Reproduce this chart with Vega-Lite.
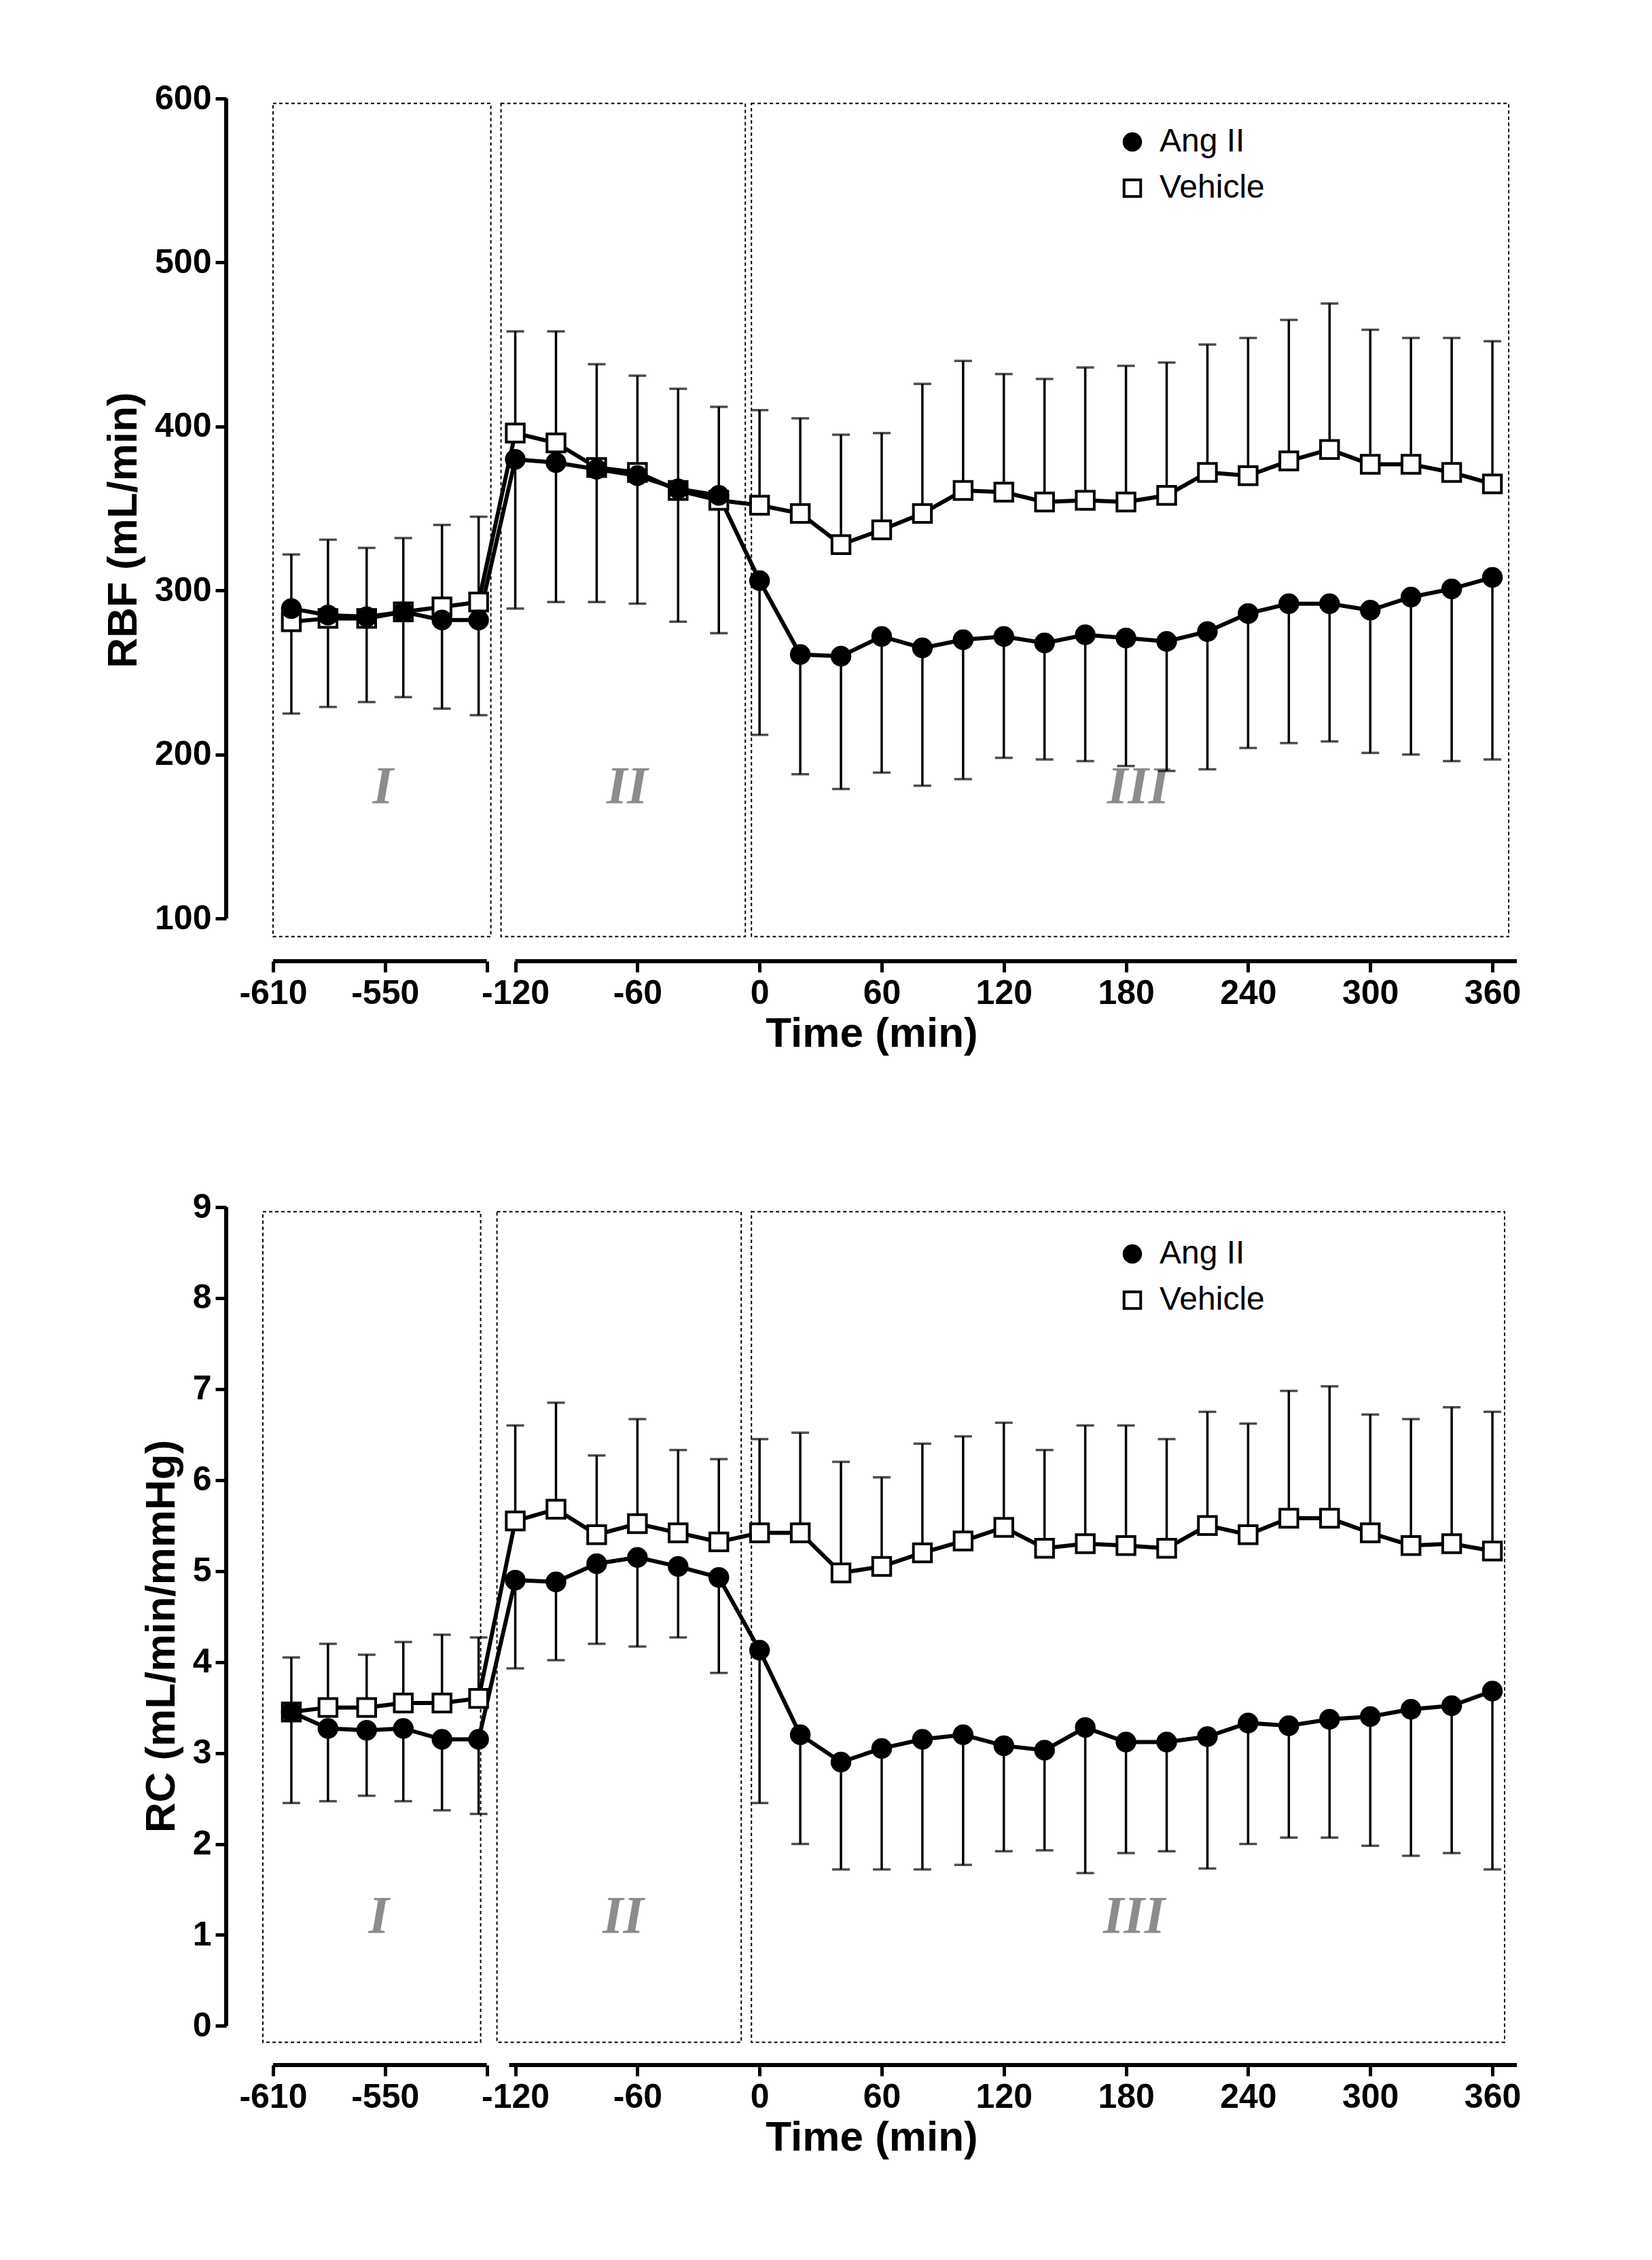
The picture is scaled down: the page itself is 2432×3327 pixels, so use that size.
{
  "$schema": "https://vega.github.io/schema/vega-lite/v6.json",
  "background": "white",
  "padding": {"left": 150, "top": 120, "right": 40, "bottom": 30},
  "config": {
    "view": {"stroke": null},
    "font": "Liberation Sans",
    "axis": {"grid": false, "domain": false, "tickColor": "black", "tickWidth": 5, "tickSize": 16, "labelFont": "Liberation Sans", "labelFontSize": 50, "labelFontWeight": "bold", "labelColor": "black", "titleFont": "Liberation Sans", "titleFontSize": 62, "titleFontWeight": "bold", "titleColor": "black", "labelPadding": 6}
  },
  "spacing": 200,
  "datasets": {
    "series": [
      {"k":"RBF","g":"Vehicle","p":-230,"m":281,"e":322},{"k":"RBF","g":"Vehicle","p":-212,"m":283,"e":331},{"k":"RBF","g":"Vehicle","p":-193,"m":283,"e":326},{"k":"RBF","g":"Vehicle","p":-175,"m":287,"e":332},{"k":"RBF","g":"Vehicle","p":-156,"m":290,"e":340},{"k":"RBF","g":"Vehicle","p":-138,"m":293,"e":345},
      {"k":"RBF","g":"Vehicle","p":-120,"m":396,"e":458},{"k":"RBF","g":"Vehicle","p":-100,"m":390,"e":458},{"k":"RBF","g":"Vehicle","p":-80,"m":375,"e":438},{"k":"RBF","g":"Vehicle","p":-60,"m":372,"e":431},{"k":"RBF","g":"Vehicle","p":-40,"m":361,"e":423},{"k":"RBF","g":"Vehicle","p":-20,"m":355,"e":412},
      {"k":"RBF","g":"Vehicle","p":0,"m":352,"e":410},{"k":"RBF","g":"Vehicle","p":20,"m":347,"e":405},{"k":"RBF","g":"Vehicle","p":40,"m":328,"e":395},{"k":"RBF","g":"Vehicle","p":60,"m":337,"e":396},{"k":"RBF","g":"Vehicle","p":80,"m":347,"e":426},{"k":"RBF","g":"Vehicle","p":100,"m":361,"e":440},{"k":"RBF","g":"Vehicle","p":120,"m":360,"e":432},{"k":"RBF","g":"Vehicle","p":140,"m":354,"e":429},{"k":"RBF","g":"Vehicle","p":160,"m":355,"e":436},{"k":"RBF","g":"Vehicle","p":180,"m":354,"e":437},{"k":"RBF","g":"Vehicle","p":200,"m":358,"e":439},{"k":"RBF","g":"Vehicle","p":220,"m":372,"e":450},{"k":"RBF","g":"Vehicle","p":240,"m":370,"e":454},{"k":"RBF","g":"Vehicle","p":260,"m":379,"e":465},{"k":"RBF","g":"Vehicle","p":280,"m":386,"e":475},{"k":"RBF","g":"Vehicle","p":300,"m":377,"e":459},{"k":"RBF","g":"Vehicle","p":320,"m":377,"e":454},{"k":"RBF","g":"Vehicle","p":340,"m":372,"e":454},{"k":"RBF","g":"Vehicle","p":360,"m":365,"e":452},
      {"k":"RBF","g":"Ang II","p":-230,"m":289,"e":225},{"k":"RBF","g":"Ang II","p":-212,"m":285,"e":229},{"k":"RBF","g":"Ang II","p":-193,"m":284,"e":232},{"k":"RBF","g":"Ang II","p":-175,"m":287,"e":235},{"k":"RBF","g":"Ang II","p":-156,"m":282,"e":228},{"k":"RBF","g":"Ang II","p":-138,"m":282,"e":224},
      {"k":"RBF","g":"Ang II","p":-120,"m":380,"e":289},{"k":"RBF","g":"Ang II","p":-100,"m":378,"e":293},{"k":"RBF","g":"Ang II","p":-80,"m":374,"e":293},{"k":"RBF","g":"Ang II","p":-60,"m":370,"e":292},{"k":"RBF","g":"Ang II","p":-40,"m":362,"e":281},{"k":"RBF","g":"Ang II","p":-20,"m":358,"e":274},
      {"k":"RBF","g":"Ang II","p":0,"m":306,"e":212},{"k":"RBF","g":"Ang II","p":20,"m":261,"e":188},{"k":"RBF","g":"Ang II","p":40,"m":260,"e":179},{"k":"RBF","g":"Ang II","p":60,"m":272,"e":189},{"k":"RBF","g":"Ang II","p":80,"m":265,"e":181},{"k":"RBF","g":"Ang II","p":100,"m":270,"e":185},{"k":"RBF","g":"Ang II","p":120,"m":272,"e":198},{"k":"RBF","g":"Ang II","p":140,"m":268,"e":197},{"k":"RBF","g":"Ang II","p":160,"m":273,"e":196},{"k":"RBF","g":"Ang II","p":180,"m":271,"e":193},{"k":"RBF","g":"Ang II","p":200,"m":269,"e":190},{"k":"RBF","g":"Ang II","p":220,"m":275,"e":191},{"k":"RBF","g":"Ang II","p":240,"m":286,"e":204},{"k":"RBF","g":"Ang II","p":260,"m":292,"e":207},{"k":"RBF","g":"Ang II","p":280,"m":292,"e":208},{"k":"RBF","g":"Ang II","p":300,"m":288,"e":201},{"k":"RBF","g":"Ang II","p":320,"m":296,"e":200},{"k":"RBF","g":"Ang II","p":340,"m":301,"e":196},{"k":"RBF","g":"Ang II","p":360,"m":308,"e":197},
      {"k":"RC","g":"Vehicle","p":-230,"m":3.45,"e":4.05},{"k":"RC","g":"Vehicle","p":-212,"m":3.5,"e":4.2},{"k":"RC","g":"Vehicle","p":-193,"m":3.5,"e":4.08},{"k":"RC","g":"Vehicle","p":-175,"m":3.55,"e":4.22},{"k":"RC","g":"Vehicle","p":-156,"m":3.55,"e":4.3},{"k":"RC","g":"Vehicle","p":-138,"m":3.6,"e":4.27},
      {"k":"RC","g":"Vehicle","p":-120,"m":5.55,"e":6.6},{"k":"RC","g":"Vehicle","p":-100,"m":5.68,"e":6.85},{"k":"RC","g":"Vehicle","p":-80,"m":5.4,"e":6.27},{"k":"RC","g":"Vehicle","p":-60,"m":5.52,"e":6.67},{"k":"RC","g":"Vehicle","p":-40,"m":5.42,"e":6.33},{"k":"RC","g":"Vehicle","p":-20,"m":5.32,"e":6.23},
      {"k":"RC","g":"Vehicle","p":0,"m":5.42,"e":6.45},{"k":"RC","g":"Vehicle","p":20,"m":5.42,"e":6.52},{"k":"RC","g":"Vehicle","p":40,"m":4.98,"e":6.2},{"k":"RC","g":"Vehicle","p":60,"m":5.05,"e":6.03},{"k":"RC","g":"Vehicle","p":80,"m":5.2,"e":6.4},{"k":"RC","g":"Vehicle","p":100,"m":5.33,"e":6.48},{"k":"RC","g":"Vehicle","p":120,"m":5.48,"e":6.63},{"k":"RC","g":"Vehicle","p":140,"m":5.25,"e":6.33},{"k":"RC","g":"Vehicle","p":160,"m":5.3,"e":6.6},{"k":"RC","g":"Vehicle","p":180,"m":5.28,"e":6.6},{"k":"RC","g":"Vehicle","p":200,"m":5.25,"e":6.45},{"k":"RC","g":"Vehicle","p":220,"m":5.5,"e":6.75},{"k":"RC","g":"Vehicle","p":240,"m":5.4,"e":6.62},{"k":"RC","g":"Vehicle","p":260,"m":5.58,"e":6.98},{"k":"RC","g":"Vehicle","p":280,"m":5.58,"e":7.03},{"k":"RC","g":"Vehicle","p":300,"m":5.42,"e":6.72},{"k":"RC","g":"Vehicle","p":320,"m":5.28,"e":6.67},{"k":"RC","g":"Vehicle","p":340,"m":5.3,"e":6.8},{"k":"RC","g":"Vehicle","p":360,"m":5.22,"e":6.75},
      {"k":"RC","g":"Ang II","p":-230,"m":3.45,"e":2.45},{"k":"RC","g":"Ang II","p":-212,"m":3.27,"e":2.47},{"k":"RC","g":"Ang II","p":-193,"m":3.25,"e":2.53},{"k":"RC","g":"Ang II","p":-175,"m":3.27,"e":2.47},{"k":"RC","g":"Ang II","p":-156,"m":3.15,"e":2.37},{"k":"RC","g":"Ang II","p":-138,"m":3.15,"e":2.33},
      {"k":"RC","g":"Ang II","p":-120,"m":4.9,"e":3.93},{"k":"RC","g":"Ang II","p":-100,"m":4.88,"e":4.02},{"k":"RC","g":"Ang II","p":-80,"m":5.08,"e":4.2},{"k":"RC","g":"Ang II","p":-60,"m":5.15,"e":4.17},{"k":"RC","g":"Ang II","p":-40,"m":5.05,"e":4.27},{"k":"RC","g":"Ang II","p":-20,"m":4.93,"e":3.88},
      {"k":"RC","g":"Ang II","p":0,"m":4.13,"e":2.45},{"k":"RC","g":"Ang II","p":20,"m":3.2,"e":2.0},{"k":"RC","g":"Ang II","p":40,"m":2.9,"e":1.72},{"k":"RC","g":"Ang II","p":60,"m":3.05,"e":1.72},{"k":"RC","g":"Ang II","p":80,"m":3.15,"e":1.72},{"k":"RC","g":"Ang II","p":100,"m":3.2,"e":1.77},{"k":"RC","g":"Ang II","p":120,"m":3.08,"e":1.92},{"k":"RC","g":"Ang II","p":140,"m":3.03,"e":1.93},{"k":"RC","g":"Ang II","p":160,"m":3.28,"e":1.68},{"k":"RC","g":"Ang II","p":180,"m":3.12,"e":1.9},{"k":"RC","g":"Ang II","p":200,"m":3.12,"e":1.92},{"k":"RC","g":"Ang II","p":220,"m":3.18,"e":1.73},{"k":"RC","g":"Ang II","p":240,"m":3.33,"e":2.0},{"k":"RC","g":"Ang II","p":260,"m":3.3,"e":2.07},{"k":"RC","g":"Ang II","p":280,"m":3.37,"e":2.07},{"k":"RC","g":"Ang II","p":300,"m":3.4,"e":1.98},{"k":"RC","g":"Ang II","p":320,"m":3.48,"e":1.87},{"k":"RC","g":"Ang II","p":340,"m":3.52,"e":1.9},{"k":"RC","g":"Ang II","p":360,"m":3.68,"e":1.72}
    ],
    "boxes": [
      {"k":"RBF","n":"I","x1":-239,"x2":-132,"y1":89,"y2":597,"tx":-185,"ty":180},
      {"k":"RBF","n":"II","x1":-127,"x2":-7,"y1":89,"y2":597,"tx":-65,"ty":180},
      {"k":"RBF","n":"III","x1":-4,"x2":368,"y1":89,"y2":597,"tx":186,"ty":180},
      {"k":"RC","n":"I","x1":-244,"x2":-137,"y1":-0.18,"y2":8.95,"tx":-187,"ty":1.2},
      {"k":"RC","n":"II","x1":-129,"x2":-9,"y1":-0.18,"y2":8.95,"tx":-67,"ty":1.2},
      {"k":"RC","n":"III","x1":-4,"x2":366,"y1":-0.18,"y2":8.95,"tx":184,"ty":1.2}
    ],
    "axes": [
      {"k":"RBF","x1":-262,"x2":-262,"y1":100,"y2":600},
      {"k":"RBF","x1":-239,"x2":-134,"y1":74,"y2":74},
      {"k":"RBF","x1":-120,"x2":372,"y1":74,"y2":74},
      {"k":"RC","x1":-262,"x2":-262,"y1":0,"y2":9},
      {"k":"RC","x1":-239,"x2":-134,"y1":-0.43,"y2":-0.43},
      {"k":"RC","x1":-123,"x2":372,"y1":-0.43,"y2":-0.43}
    ]
  },
  "vconcat": [
    {
      "width": 1900,
      "height": 1270,
      "layer": [
        {"data": {"name": "boxes"}, "transform": [{"filter": "datum.k == 'RBF'"}],
         "mark": {"type": "rect", "fill": null, "stroke": "black", "strokeWidth": 2, "strokeDash": [5, 4]},
         "encoding": {"x": {"field": "x1", "type": "quantitative", "scale": {"domain": [-262, 372], "nice": false, "zero": false}},
                      "x2": {"field": "x2"},
                      "y": {"field": "y1", "type": "quantitative", "scale": {"domain": [74, 600], "nice": false, "zero": false}},
                      "y2": {"field": "y2"}}},
        {"data": {"name": "boxes"}, "transform": [{"filter": "datum.k == 'RBF'"}],
         "mark": {"type": "text", "font": "Liberation Serif", "fontStyle": "italic", "fontWeight": "bold", "fontSize": 78, "color": "#8c8c8c"},
         "encoding": {"x": {"field": "tx", "type": "quantitative"}, "y": {"field": "ty", "type": "quantitative"}, "text": {"field": "n"}}},
        {"data": {"name": "series"}, "transform": [{"filter": "datum.k == 'RBF'"}],
         "mark": {"type": "rule", "strokeWidth": 3.5, "color": "black"},
         "encoding": {"x": {"field": "p", "type": "quantitative"}, "y": {"field": "m", "type": "quantitative"}, "y2": {"field": "e"}}},
        {"data": {"name": "series"}, "transform": [{"filter": "datum.k == 'RBF'"}],
         "mark": {"type": "tick", "orient": "horizontal", "size": 26, "thickness": 3.5, "color": "black"},
         "encoding": {"x": {"field": "p", "type": "quantitative"}, "y": {"field": "e", "type": "quantitative"}}},
        {"data": {"name": "series"}, "transform": [{"filter": "datum.k == 'RBF'"}],
         "mark": {"type": "line", "strokeWidth": 6, "color": "black"},
         "encoding": {"x": {"field": "p", "type": "quantitative",
                            "axis": {"title": "Time (min)", "values": [-239, -184, -134, -120, -60, 0, 60, 120, 180, 240, 300, 360],
                                     "labelExpr": "datum.value == -239 ? '-610' : datum.value == -184 ? '-550' : datum.value == -134 ? '' : '' + datum.value"}},
                      "y": {"field": "m", "type": "quantitative",
                            "axis": {"title": "RBF (mL/min)", "values": [100, 200, 300, 400, 500, 600], "titlePadding": 14, "labelExpr": "'' + datum.value"}},
                      "detail": {"field": "g"}, "order": {"field": "p"}}},
        {"data": {"name": "series"}, "transform": [{"filter": "datum.k == 'RBF'"}],
         "mark": {"type": "point", "filled": false, "stroke": "black", "strokeWidth": 4, "size": 700, "opacity": 1},
         "encoding": {"x": {"field": "p", "type": "quantitative"}, "y": {"field": "m", "type": "quantitative"},
                      "fill": {"field": "g", "type": "nominal", "scale": {"domain": ["Ang II", "Vehicle"], "range": ["black", "white"]},
                               "legend": {"title": null, "orient": "none", "legendX": 1310, "legendY": 40, "labelFontSize": 48, "labelFont": "Liberation Sans", "symbolSize": 600, "symbolStrokeColor": "black", "symbolStrokeWidth": 4, "rowPadding": 20, "labelOffset": 16}},
                      "shape": {"field": "g", "type": "nominal", "scale": {"domain": ["Ang II", "Vehicle"], "range": ["circle", "square"]}}}},
        {"data": {"name": "axes"}, "transform": [{"filter": "datum.k == 'RBF'"}],
         "mark": {"type": "rule", "strokeWidth": 6, "color": "black", "clip": false},
         "encoding": {"x": {"field": "x1", "type": "quantitative"}, "x2": {"field": "x2"}, "y": {"field": "y1", "type": "quantitative"}, "y2": {"field": "y2"}}}
      ]
    },
    {
      "width": 1900,
      "height": 1263,
      "layer": [
        {"data": {"name": "boxes"}, "transform": [{"filter": "datum.k == 'RC'"}],
         "mark": {"type": "rect", "fill": null, "stroke": "black", "strokeWidth": 2, "strokeDash": [5, 4]},
         "encoding": {"x": {"field": "x1", "type": "quantitative", "scale": {"domain": [-262, 372], "nice": false, "zero": false}},
                      "x2": {"field": "x2"},
                      "y": {"field": "y1", "type": "quantitative", "scale": {"domain": [-0.43, 9], "nice": false, "zero": false}},
                      "y2": {"field": "y2"}}},
        {"data": {"name": "boxes"}, "transform": [{"filter": "datum.k == 'RC'"}],
         "mark": {"type": "text", "font": "Liberation Serif", "fontStyle": "italic", "fontWeight": "bold", "fontSize": 78, "color": "#8c8c8c"},
         "encoding": {"x": {"field": "tx", "type": "quantitative"}, "y": {"field": "ty", "type": "quantitative"}, "text": {"field": "n"}}},
        {"data": {"name": "series"}, "transform": [{"filter": "datum.k == 'RC'"}],
         "mark": {"type": "rule", "strokeWidth": 3.5, "color": "black"},
         "encoding": {"x": {"field": "p", "type": "quantitative"}, "y": {"field": "m", "type": "quantitative"}, "y2": {"field": "e"}}},
        {"data": {"name": "series"}, "transform": [{"filter": "datum.k == 'RC'"}],
         "mark": {"type": "tick", "orient": "horizontal", "size": 26, "thickness": 3.5, "color": "black"},
         "encoding": {"x": {"field": "p", "type": "quantitative"}, "y": {"field": "e", "type": "quantitative"}}},
        {"data": {"name": "series"}, "transform": [{"filter": "datum.k == 'RC'"}],
         "mark": {"type": "line", "strokeWidth": 6, "color": "black"},
         "encoding": {"x": {"field": "p", "type": "quantitative",
                            "axis": {"title": "Time (min)", "values": [-239, -184, -134, -120, -60, 0, 60, 120, 180, 240, 300, 360],
                                     "labelExpr": "datum.value == -239 ? '-610' : datum.value == -184 ? '-550' : datum.value == -134 ? '' : '' + datum.value"}},
                      "y": {"field": "m", "type": "quantitative",
                            "axis": {"title": "RC (mL/min/mmHg)", "values": [0, 1, 2, 3, 4, 5, 6, 7, 8, 9], "titlePadding": 14, "labelExpr": "'' + datum.value"}},
                      "detail": {"field": "g"}, "order": {"field": "p"}}},
        {"data": {"name": "series"}, "transform": [{"filter": "datum.k == 'RC'"}],
         "mark": {"type": "point", "filled": false, "stroke": "black", "strokeWidth": 4, "size": 700, "opacity": 1},
         "encoding": {"x": {"field": "p", "type": "quantitative"}, "y": {"field": "m", "type": "quantitative"},
                      "fill": {"field": "g", "type": "nominal", "scale": {"domain": ["Ang II", "Vehicle"], "range": ["black", "white"]},
                               "legend": {"title": null, "orient": "none", "legendX": 1310, "legendY": 45, "labelFontSize": 48, "labelFont": "Liberation Sans", "symbolSize": 600, "symbolStrokeColor": "black", "symbolStrokeWidth": 4, "rowPadding": 20, "labelOffset": 16}},
                      "shape": {"field": "g", "type": "nominal", "scale": {"domain": ["Ang II", "Vehicle"], "range": ["circle", "square"]}}}},
        {"data": {"name": "axes"}, "transform": [{"filter": "datum.k == 'RC'"}],
         "mark": {"type": "rule", "strokeWidth": 6, "color": "black", "clip": false},
         "encoding": {"x": {"field": "x1", "type": "quantitative"}, "x2": {"field": "x2"}, "y": {"field": "y1", "type": "quantitative"}, "y2": {"field": "y2"}}}
      ]
    }
  ],
  "resolve": {"scale": {"fill": "independent", "shape": "independent"}, "legend": {"fill": "independent", "shape": "independent"}}
}
